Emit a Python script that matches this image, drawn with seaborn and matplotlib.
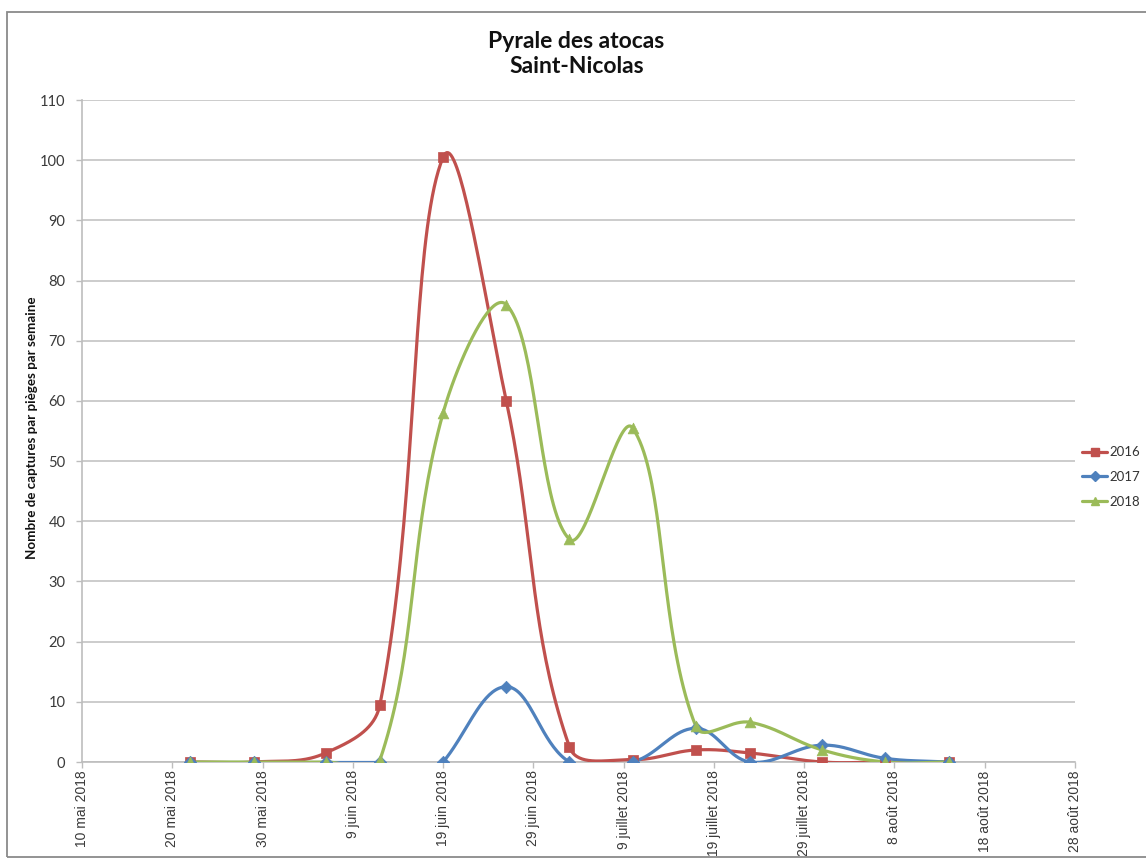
import numpy as np
import pandas as pd
import matplotlib
matplotlib.use("Agg")
import matplotlib.pyplot as plt
import matplotlib.dates as mdates
from matplotlib.lines import Line2D
from matplotlib.patches import Rectangle
import seaborn as sns

# ---------------- data ----------------
dates = ["2018-05-22", "2018-05-29", "2018-06-06", "2018-06-12", "2018-06-19",
         "2018-06-26", "2018-07-03", "2018-07-10", "2018-07-17", "2018-07-23",
         "2018-07-31", "2018-08-07", "2018-08-14"]
v2016 = [0, 0, 1.5, 9.5, 100.5, 60, 2.5, 0.4, 2.0, 1.5, 0, 0, 0]
v2018 = [0, 0, 0, 0.3, 58, 76, 37, 55.5, 5.9, 6.6, 2.0, 0, 0]
# 2017 has a missing observation between 12 and 19 June (line is broken there)
dates2017 = ["2018-05-22", "2018-05-29", "2018-06-06", "2018-06-12", "2018-06-15",
             "2018-06-19", "2018-06-26", "2018-07-03", "2018-07-10", "2018-07-17",
             "2018-07-23", "2018-07-31", "2018-08-07", "2018-08-14"]
v2017 = [0, 0, 0, 0, np.nan, 0, 12.5, 0, 0, 5.6, 0, 2.8, 0.6, 0]

series_names = ["2016", "2017", "2018"]
tick_dates = ["2018-05-10", "2018-05-20", "2018-05-30", "2018-06-09", "2018-06-19",
              "2018-06-29", "2018-07-09", "2018-07-19", "2018-07-29", "2018-08-08",
              "2018-08-18", "2018-08-28"]
tick_labels = ["10 mai 2018", "20 mai 2018", "30 mai 2018", "9 juin 2018", "19 juin 2018",
               "29 juin 2018", "9 juillet 2018", "19 juillet 2018", "29 juillet 2018",
               "8 août 2018", "18 août 2018", "28 août 2018"]
y_ticks = list(range(0, 111, 10))

colors = {"2016": "#C0504D", "2017": "#4F81BD", "2018": "#9BBB59"}
markers = {"2016": "s", "2017": "D", "2018": "^"}
msizes = {"2016": 55, "2017": 40, "2018": 60}

# approximate screen scale (pixels per day / per unit) used for Excel-like smoothing
SX, SY = 9.03, 6.02


def smooth(x, y, n=40, k=0.38):
    """Excel-like smoothed line: Bezier with chord-length scaled tangents."""
    pts = np.column_stack([np.asarray(x) * SX, np.asarray(y) * SY]).astype(float)
    if len(pts) < 2:
        return pts[:, 0] / SX, pts[:, 1] / SY
    P = np.vstack([pts[0], pts, pts[-1]])
    t = np.linspace(0, 1, n)[:, None]
    out = []
    for i in range(len(pts) - 1):
        p0, p1, p2, p3 = P[i], P[i + 1], P[i + 2], P[i + 3]
        d01 = np.hypot(*(p1 - p0))
        d12 = np.hypot(*(p2 - p1))
        d23 = np.hypot(*(p3 - p2))
        f1 = k * d12 / (d01 + d12) if d01 + d12 > 0 else 0
        f2 = k * d12 / (d12 + d23) if d12 + d23 > 0 else 0
        c1 = p1 + (p2 - p0) * f1
        c2 = p2 - (p3 - p1) * f2
        seg = ((1 - t) ** 3) * p1 + 3 * ((1 - t) ** 2) * t * c1 + 3 * (1 - t) * t ** 2 * c2 + t ** 3 * p2
        out.append(seg if i == 0 else seg[1:])
    out = np.vstack(out)
    return out[:, 0] / SX, out[:, 1] / SY


def segments(dlist, vals):
    x = mdates.date2num(pd.to_datetime(dlist))
    v = np.array(vals, dtype=float)
    segs, cur = [], []
    for xi, vi in zip(x, v):
        if np.isnan(vi):
            if cur:
                segs.append(cur)
            cur = []
        else:
            cur.append((xi, vi))
    if cur:
        segs.append(cur)
    return segs


# ---------------- figure ----------------
sns.set_theme(style="white")
plt.rcParams["font.family"] = ["Liberation Sans", "DejaVu Sans"]

fig = plt.figure(figsize=(11.46, 8.59), dpi=100)
ax = fig.add_axes([82 / 1146, 1 - 762 / 859, (1075 - 82) / 1146, (762 - 100) / 859])

data = {"2016": (dates, v2016), "2017": (dates2017, v2017), "2018": (dates, v2018)}

handles = []
for name in series_names:
    dl, vals = data[name]
    col = colors[name]
    for seg in segments(dl, vals):
        sx, sy = zip(*seg)
        cx, cy = smooth(sx, sy)
        df = pd.DataFrame({"x": cx, "y": cy})
        sns.lineplot(data=df, x="x", y="y", sort=False, estimator=None, ax=ax,
                     color=col, lw=2.3, zorder=3)
        pdf = pd.DataFrame({"x": sx, "y": sy})
        sns.scatterplot(data=pdf, x="x", y="y", ax=ax, marker=markers[name], s=msizes[name],
                        color=col, edgecolor=col, linewidth=0.5, zorder=4)
    handles.append(Line2D([], [], color=col, lw=2.3, marker=markers[name],
                          markersize=6 if name != "2017" else 5, label=name))

ax.set_xlim(mdates.date2num(pd.Timestamp("2018-05-10")), mdates.date2num(pd.Timestamp("2018-08-28")))
ax.set_ylim(0, 110)
ax.set_xticks(mdates.date2num(pd.to_datetime(tick_dates)))
ax.set_xticklabels(tick_labels, rotation=90, fontsize=10, color="#3a3a3a",
                   family=["Liberation Sans", "DejaVu Sans"])
ax.set_yticks(y_ticks)
ax.set_yticklabels([str(v) for v in y_ticks], fontsize=10.5, color="#3a3a3a",
                   family=["Lato", "DejaVu Sans"])
ax.set_xlabel("")
ax.set_ylabel("")
ax.grid(axis="y", color="#c4c4c4", lw=1.2)
ax.grid(axis="x", visible=False)
for s in ["top", "right"]:
    ax.spines[s].set_visible(False)
for s in ["left", "bottom"]:
    ax.spines[s].set_color("#bdbdbd")
    ax.spines[s].set_linewidth(1.2)
ax.tick_params(axis="both", which="major", length=4, color="#bdbdbd", width=1.0,
               bottom=True, left=True, direction="out")
ax.tick_params(axis="y", pad=8)
ax.tick_params(axis="x", pad=2)

# title
fig.text(0.503, 1 - 54 / 859, "Pyrale des atocas\nSaint-Nicolas", ha="center", va="center",
         fontsize=16.5, fontweight="bold", linespacing=1.25, color="#111111",
         family=["Lato", "DejaVu Sans"])
# y label
fig.text(32 / 1146, 1 - 428 / 859, "Nombre de captures par pièges par semaine", rotation=90,
         ha="center", va="center", fontsize=9.6, fontweight="bold", color="#111111",
         family=["Lato", "DejaVu Sans"])

# legend
leg = fig.legend(handles=handles, loc="center left", bbox_to_anchor=(1082 / 1146, 1 - 477 / 859),
                 frameon=False, handlelength=1.9, handletextpad=0.2,
                 labelspacing=0.95, borderaxespad=0, borderpad=0,
                 prop={"family": ["Lato", "DejaVu Sans"], "size": 9.5})
for t in leg.get_texts():
    t.set_color("#333333")

# chart border
fig.patches.append(Rectangle((7 / 1146, 2 / 859), 1.2, (857 - 12) / 859, transform=fig.transFigure,
                             fill=False, edgecolor="#8a8a8a", lw=1.3, zorder=0))

fig.savefig("out.png", dpi=100)
